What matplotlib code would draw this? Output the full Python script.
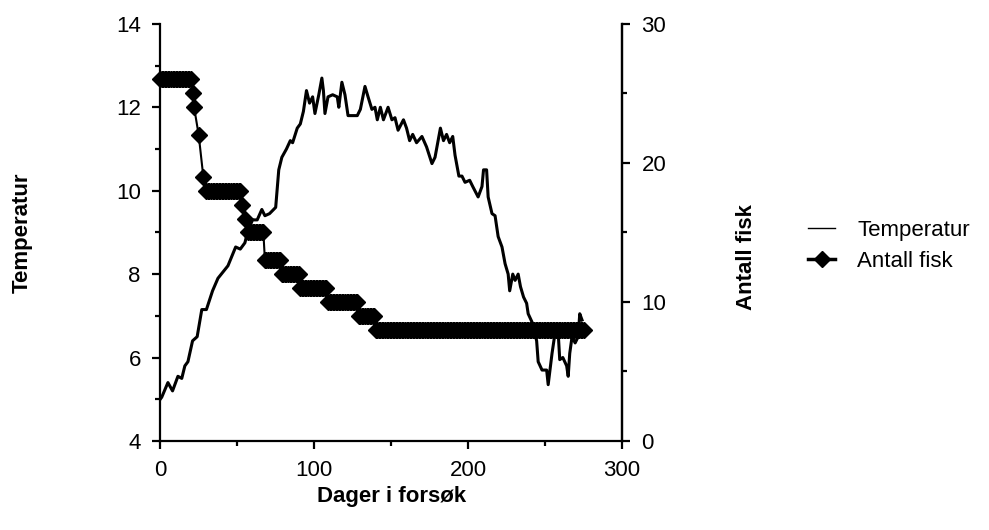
import numpy as np
import matplotlib.pyplot as plt
from matplotlib.lines import Line2D

plt.rcParams['font.family'] = ['Liberation Sans', 'DejaVu Sans']

# Temperatur (dag, grader)
temp_days = [0, 1, 5, 8, 11.5, 14, 16, 18, 21, 24, 27, 30, 34, 37.5, 44, 49, 52, 55,
             57, 60, 63, 66, 68, 71, 75, 77, 79, 82, 84.5, 86, 89, 91, 93, 95, 97, 99,
             100.5, 103, 105, 106, 107, 109, 112, 115, 116, 118, 120, 122, 128, 130,
             133, 135, 137.5, 139.5, 141, 143, 145, 148, 150.5, 152.5, 154.5, 158,
             160, 162, 164, 166.5, 170, 173, 176.5, 178.5, 182, 184, 186, 188, 190,
             191.5, 194, 196, 198, 201, 203, 206.5, 209, 210, 212, 213, 215.5, 217.5,
             219.5, 222, 224, 226, 227, 229, 230.5, 232.5, 234, 236, 238, 239, 241.5,
             244.5, 245.5, 248, 251, 252, 254.5, 256.5, 258.5, 259.5, 261.5, 264, 265,
             266, 267.5, 269.5, 271.5, 272.5, 274]
temp_vals = [5.0, 5.05, 5.4, 5.2, 5.55, 5.5, 5.8, 5.9, 6.4, 6.5, 7.15, 7.15, 7.6, 7.9,
             8.2, 8.65, 8.6, 8.75, 9.05, 9.3, 9.3, 9.55, 9.4, 9.45, 9.6, 10.5, 10.8,
             11.0, 11.2, 11.15, 11.5, 11.6, 11.9, 12.4, 12.1, 12.25, 11.85, 12.3, 12.7,
             12.4, 11.85, 12.25, 12.3, 12.25, 12.0, 12.6, 12.3, 11.8, 11.8, 11.95, 12.5,
             12.25, 11.95, 12.0, 11.7, 12.0, 11.7, 12.0, 11.7, 11.75, 11.45, 11.7, 11.5,
             11.2, 11.35, 11.15, 11.3, 11.05, 10.65, 10.8, 11.5, 11.2, 11.35, 11.15,
             11.3, 10.85, 10.35, 10.35, 10.2, 10.25, 10.1, 9.85, 10.1, 10.5, 10.5, 9.85,
             9.45, 9.4, 8.9, 8.65, 8.25, 8.0, 7.6, 8.0, 7.85, 8.0, 7.7, 7.45, 7.3, 7.05,
             6.85, 6.4, 5.9, 5.7, 5.7, 5.35, 6.1, 6.6, 6.6, 5.95, 6.0, 5.8, 5.55, 6.1,
             6.5, 6.35, 6.5, 7.05, 6.9]

# Antall fisk: perioder (fra dag, til dag, antall)
fish_from = [0, 21, 22, 25, 28, 30, 53, 55, 57, 68, 79, 91, 109, 129, 140]
fish_to = [20, 21, 22, 25, 28, 52, 53, 55, 67, 78, 90, 108, 128, 139, 275]
fish_count = [26, 25, 24, 22, 19, 18, 17, 16, 15, 13, 12, 11, 10, 9, 8]

fish_days = np.concatenate([np.arange(a, b + 1) for a, b in zip(fish_from, fish_to)])
fish_vals = np.concatenate([[c] * (b - a + 1) for a, b, c in zip(fish_from, fish_to, fish_count)])

fig = plt.figure(figsize=(9.89, 5.30), dpi=100)
ax = fig.add_axes([0.162, 0.168, 0.467, 0.787])
ax2 = ax.twinx()

ax.plot(temp_days, temp_vals, color='black', lw=2.2)
ax2.plot(fish_days, fish_vals, color='black', lw=1.5, marker='D', markersize=8,
         clip_on=False)

ax.set_xlim(0, 300)
ax.set_ylim(4, 14)
ax2.set_ylim(0, 30)
ax.set_xticks([0, 100, 200, 300])
ax.set_xticks([50, 150, 250], minor=True)
ax.set_yticks([4, 6, 8, 10, 12, 14])
ax.set_yticks([5, 7, 9, 11, 13], minor=True)
ax2.set_yticks([0, 10, 20, 30])
ax2.set_yticks([5, 15, 25], minor=True)

for a in (ax, ax2):
    a.spines['top'].set_visible(False)
    for s in a.spines.values():
        s.set_linewidth(1.6)
    a.tick_params(which='major', direction='out', length=6, width=1.6,
                  labelsize=16, pad=8)
    a.tick_params(which='minor', direction='out', length=3.5, width=1.6)
ax2.spines['left'].set_visible(False)
ax2.spines['bottom'].set_visible(False)

ax.set_xlabel('Dager i forsøk', fontsize=16, fontweight='bold')
ax.set_ylabel('Temperatur', fontsize=16, fontweight='bold')
ax2.set_ylabel('Antall fisk', fontsize=16, fontweight='bold')
ax.xaxis.set_label_coords(0.5, -0.108)
ax.yaxis.set_label_coords(-0.277, 0.5)
ax2.yaxis.set_label_coords(1.247, 0.44)

handles = [Line2D([], [], color='black', lw=1.0),
           Line2D([], [], color='black', lw=2.5, marker='D', markersize=8)]
fig.legend(handles, ['Temperatur', 'Antall fisk'], loc='center left',
           bbox_to_anchor=(0.797, 0.536), frameon=False, fontsize=16,
           handlelength=1.2, labelspacing=0.45, handletextpad=1.0)

fig.savefig('out.png', dpi=100)
